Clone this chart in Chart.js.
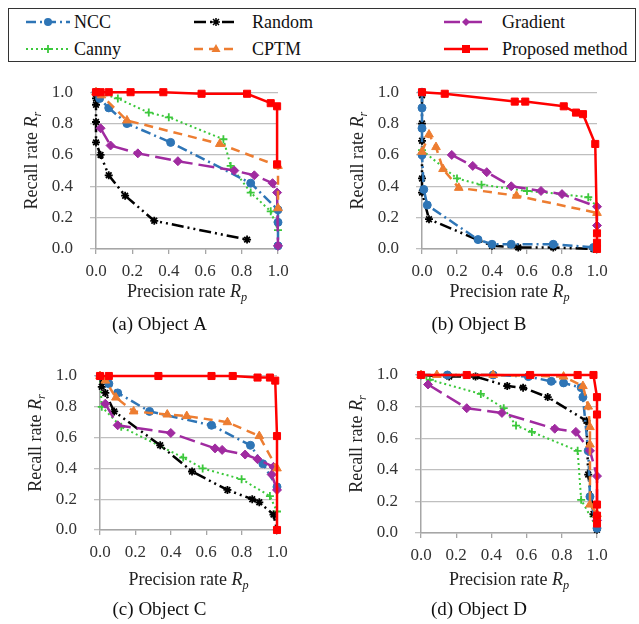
<!DOCTYPE html>
<html>
<head>
<meta charset="utf-8">
<script src="https://cdn.jsdelivr.net/npm/chart.js@4.4.1/dist/chart.umd.min.js"></script>
<style>
body { margin: 0; background: #fff; width: 639px; height: 624px; position: relative; overflow: hidden; font-family: "Liberation Serif", serif; }
canvas { position: absolute; }
#legend { position: absolute; left: 8px; top: 8px; width: 628px; height: 54px; border: 1.5px solid #333; box-sizing: border-box; }
.lg-item { position: absolute; font-size: 18px; line-height: 20px; color: #111; white-space: nowrap; }
.lg-sample { position: absolute; }
</style>
</head>
<body>
<div id="legend"></div>
<canvas id="chartA" width="319" height="280" style="left:0;top:65px"></canvas>
<canvas id="chartB" width="320" height="280" style="left:319px;top:65px"></canvas>
<canvas id="chartC" width="319" height="279" style="left:0;top:345px"></canvas>
<canvas id="chartD" width="320" height="279" style="left:319px;top:345px"></canvas>
<script>
// Data: each point is [precision Rp, recall Rr]
const methods = ['NCC', 'Random', 'Gradient', 'Canny', 'CPTM', 'Proposed method'];
const tickValues = [0, 0.2, 0.4, 0.6, 0.8, 1.0];
const captions = ['(a) Object A', '(b) Object B', '(c) Object C', '(d) Object D'];

// Object A
const nccA = [[0,1.0],[0.02,0.96],[0.07,0.9],[0.17,0.8],[0.41,0.68],[0.85,0.42],[1.0,0.25],[1.0,0.17],[1.0,0.02]];
const randomA = [[0,1.0],[0,0.96],[0,0.92],[0,0.81],[0,0.68],[0.025,0.6],[0.07,0.47],[0.16,0.34],[0.32,0.18],[0.83,0.06]];
const gradientA = [[0.025,0.77],[0.08,0.66],[0.23,0.61],[0.45,0.56],[0.76,0.5],[0.87,0.47],[0.97,0.42],[0.995,0.36],[1.0,0.02]];
const cannyA = [[0,1.0],[0.12,0.96],[0.29,0.87],[0.4,0.84],[0.7,0.7],[0.74,0.53],[0.85,0.36],[0.96,0.24],[1.0,0.12],[1.0,0.03]];
const cptmA = [[0,1.0],[0.03,0.98],[0.17,0.82],[0.68,0.67],[1.0,0.53],[1.0,0.26]];
const proposedA = [[0,1.0],[0.025,1.0],[0.07,1.0],[0.19,1.0],[0.37,1.0],[0.58,0.99],[0.83,0.99],[0.96,0.93],[0.995,0.91],[0.995,0.54]];

// Object B
const nccB = [[0,1.0],[0,0.9],[0,0.77],[0,0.6],[0.01,0.38],[0.03,0.28],[0.32,0.06],[0.4,0.03],[0.51,0.03],[0.75,0.03],[0.98,0.01]];
const randomB = [[0,1.0],[0,0.98],[0,0.8],[0,0.69],[0,0.45],[0,0.36],[0.04,0.19],[0.4,0.02],[0.55,0.01],[0.75,0.01],[0.98,0.0]];
const gradientB = [[0.17,0.6],[0.29,0.53],[0.37,0.49],[0.51,0.4],[0.68,0.37],[0.8,0.35],[1.0,0.27],[1.0,0.15]];
const cannyB = [[0,0.63],[0.2,0.45],[0.34,0.41],[0.6,0.37],[0.8,0.35],[0.95,0.33],[1.0,0.27]];
const cptmB = [[0,0.62],[0.04,0.73],[0.08,0.65],[0.12,0.51],[0.21,0.39],[0.54,0.34],[1.0,0.23]];
const proposedB = [[0,1.0],[0.13,0.99],[0.53,0.94],[0.59,0.94],[0.81,0.91],[0.88,0.87],[0.92,0.86],[0.99,0.67],[1.0,0.1],[1.0,0.04],[1.0,0.0]];

// Object C
const nccC = [[0,1.0],[0.05,0.95],[0.1,0.89],[0.28,0.77],[0.63,0.68],[0.85,0.55],[0.92,0.43],[1.0,0.28]];
const randomC = [[0,1.0],[0.01,0.93],[0.03,0.89],[0.08,0.77],[0.34,0.55],[0.52,0.38],[0.72,0.26],[0.86,0.2],[0.9,0.18],[0.98,0.1],[1.0,0.0]];
const gradientC = [[0.03,0.82],[0.1,0.68],[0.4,0.63],[0.65,0.53],[0.69,0.52],[0.82,0.49],[0.89,0.46],[0.98,0.41],[0.97,0.36],[1.0,0.26]];
const cannyC = [[0,1.0],[0.01,0.8],[0.12,0.67],[0.47,0.47],[0.58,0.4],[0.8,0.33],[0.96,0.22],[1.0,0.12],[1.0,0.01]];
const cptmC = [[0,1.0],[0.03,0.97],[0.09,0.86],[0.19,0.77],[0.38,0.75],[0.49,0.74],[0.72,0.7],[0.9,0.61],[1.0,0.4]];
const proposedC = [[0,1.0],[0.05,1.0],[0.33,1.0],[0.63,1.0],[0.75,1.0],[0.89,0.99],[0.96,0.99],[0.99,0.97],[1.0,0.61],[1.0,0.0]];

// Object D
const nccD = [[0,1.0],[0.15,1.0],[0.41,1.0],[0.61,0.99],[0.74,0.96],[0.81,0.95],[0.91,0.92],[0.92,0.86],[0.95,0.52],[0.96,0.23],[1.0,0.03]];
const randomD = [[0,1.0],[0.16,0.99],[0.31,0.99],[0.49,0.93],[0.58,0.92],[0.72,0.86],[0.94,0.71],[0.95,0.37],[0.98,0.12],[1.0,0.02]];
const gradientD = [[0.04,0.94],[0.26,0.79],[0.46,0.76],[0.76,0.66],[0.88,0.64],[0.96,0.52],[1.0,0.36],[1.0,0.08]];
const cannyD = [[0,1.0],[0.05,0.97],[0.34,0.88],[0.47,0.79],[0.54,0.68],[0.63,0.64],[0.89,0.52],[0.91,0.21],[1.0,0.03]];
const cptmD = [[0,1.0],[0.09,1.0],[0.41,1.0],[0.81,0.99],[0.92,0.93],[0.95,0.8],[0.96,0.67],[0.96,0.56],[0.96,0.18],[1.0,0.12]];
const proposedD = [[0,1.0],[0.26,1.0],[0.62,1.0],[0.89,1.0],[0.98,1.0],[1.0,0.86],[1.0,0.75],[1.0,0.18],[1.0,0.11],[1.0,0.06]];

// line / marker look for each method (same order as methods)
const styles = [
    { color: '#2E75B6', dash: [10, 4, 2, 4], point: 'circle', radius: 4, width: 2.5, order: 3 },
    { color: '#000000', dash: [12, 4, 2, 4, 2, 4], point: 'star', radius: 4, width: 2.5, order: 4 },
    { color: '#A02BA0', dash: [16, 6], point: 'rectRot', radius: 4.5, width: 2.5, order: 2 },
    { color: '#3CC83C', dash: [2, 3], point: 'cross', radius: 4, width: 2, order: 5 },
    { color: '#ED7D31', dash: [9, 6], point: 'triangle', radius: 5, width: 2.5, order: 1 },
    { color: '#FF0000', dash: [], point: 'rect', radius: 5, width: 2.5, order: 0 }
];

const FONT = '"Liberation Serif", "Times New Roman", serif';

// draws a title with an italic R and a subscript letter
function drawRich(ctx, parts, x, y, size, rotate) {
    ctx.save();
    ctx.translate(x, y);
    if (rotate) ctx.rotate(-Math.PI / 2);
    ctx.textBaseline = 'middle';
    ctx.fillStyle = '#222';
    const fonts = parts.map(p => (p.italic ? 'italic ' : '') + (p.sub ? size * 0.68 : size) + 'px ' + FONT);
    const widths = parts.map((p, i) => { ctx.font = fonts[i]; return ctx.measureText(p.text).width; });
    let cx = -widths.reduce((a, b) => a + b, 0) / 2;
    parts.forEach((p, i) => {
        ctx.font = fonts[i];
        ctx.fillText(p.text, cx, p.sub ? size * 0.3 : 0);
        cx += widths[i];
    });
    ctx.restore();
}

const axisTitles = {
    id: 'axisTitles',
    afterDraw(chart, args, opts) {
        const { ctx, chartArea } = chart;
        const midX = (chartArea.left + chartArea.right) / 2;
        const midY = (chartArea.top + chartArea.bottom) / 2;
        drawRich(ctx, [{ text: 'Precision rate ' }, { text: 'R', italic: true }, { text: 'p', italic: true, sub: true }],
            midX, chartArea.bottom + opts.xTitleDy, 18, false);
        drawRich(ctx, [{ text: 'Recall rate ' }, { text: 'R', italic: true }, { text: 'r', italic: true, sub: true }],
            chartArea.left - 64, midY - 10, 18, true);
        ctx.save();
        ctx.font = '19px ' + FONT;
        ctx.fillStyle = '#111';
        ctx.textAlign = 'center';
        ctx.textBaseline = 'middle';
        ctx.fillText(opts.caption, chart.width / 2, chartArea.bottom + opts.captionDy);
        ctx.restore();
    }
};

function makeChart(id, series, caption, box) {
    const datasets = series.map((pts, i) => ({
        label: methods[i],
        data: pts.map(p => ({ x: p[0], y: p[1] })),
        showLine: true,
        borderColor: styles[i].color,
        borderWidth: styles[i].width,
        borderDash: styles[i].dash,
        pointStyle: styles[i].point,
        pointRadius: styles[i].radius,
        pointBackgroundColor: styles[i].color,
        pointBorderColor: styles[i].color,
        pointBorderWidth: styles[i].point === 'cross' || styles[i].point === 'star' ? 1.8 : 1,
        order: styles[i].order,
        clip: false
    }));
    return new Chart(document.getElementById(id), {
        type: 'scatter',
        data: { datasets },
        options: {
            responsive: false,
            animation: false,
            layout: { padding: { left: 0, top: box.top, right: box.right, bottom: box.bottom - 30 } },
            plugins: {
                legend: { display: false },
                tooltip: { enabled: false },
                axisTitles: { caption, xTitleDy: box.xTitleDy, captionDy: box.captionDy }
            },
            scales: {
                x: {
                    min: 0, max: 1,
                    afterBuildTicks: s => { s.ticks = tickValues.map(v => ({ value: v })); },
                    afterFit: s => { s.height = 30; },
                    ticks: { callback: v => v.toFixed(1), font: { family: FONT, size: 17 }, color: '#333', padding: 7, maxRotation: 0 },
                    grid: { drawOnChartArea: false, drawTicks: true, tickLength: 5, color: '#a6a6a6', lineWidth: 1.3 },
                    border: { display: true, color: '#a6a6a6', width: 1.5 }
                },
                y: {
                    min: 0, max: 1,
                    afterBuildTicks: s => { s.ticks = tickValues.map(v => ({ value: v })); },
                    afterFit: s => { s.width = box.left; },
                    ticks: { callback: v => v.toFixed(1), font: { family: FONT, size: 17 }, color: '#333', padding: 17 },
                    grid: { drawTicks: true, tickLength: 6, color: '#bfbfbf', lineWidth: 1.3 },
                    border: { display: true, color: '#a6a6a6', width: 1.5 }
                }
            }
        },
        plugins: [axisTitles]
    });
}

makeChart('chartA', [nccA, randomA, gradientA, cannyA, cptmA, proposedA], captions[0],
    { left: 96, top: 26, right: 41, bottom: 96, xTitleDy: 43, captionDy: 76 });
makeChart('chartB', [nccB, randomB, gradientB, cannyB, cptmB, proposedB], captions[1],
    { left: 103, top: 26, right: 42, bottom: 96, xTitleDy: 43, captionDy: 76 });
makeChart('chartC', [nccC, randomC, gradientC, cannyC, cptmC, proposedC], captions[2],
    { left: 100, top: 31, right: 42, bottom: 94, xTitleDy: 50, captionDy: 80 });
makeChart('chartD', [nccD, randomD, gradientD, cannyD, cptmD, proposedD], captions[3],
    { left: 102, top: 30, right: 42, bottom: 91, xTitleDy: 47, captionDy: 77 });

// Legend (HTML text + small svg samples)
const legendSampleX = [26, 194, 444];
const legendTextX = [74, 252, 502];
const legendRowY = [22, 49];

function markerSvg(st, cx, cy) {
    const c = st.color;
    if (st.point === 'circle') return `<circle cx="${cx}" cy="${cy}" r="4" fill="${c}"/>`;
    if (st.point === 'star') return `<path d="M${cx-4} ${cy}H${cx+4}M${cx} ${cy-4}V${cy+4}M${cx-3} ${cy-3}L${cx+3} ${cy+3}M${cx-3} ${cy+3}L${cx+3} ${cy-3}" stroke="${c}" stroke-width="1.5"/>`;
    if (st.point === 'rectRot') return `<polygon points="${cx},${cy-4} ${cx+4},${cy} ${cx},${cy+4} ${cx-4},${cy}" fill="${c}"/>`;
    if (st.point === 'cross') return `<path d="M${cx-4} ${cy}H${cx+4}M${cx} ${cy-4}V${cy+4}" stroke="${c}" stroke-width="1.8"/>`;
    if (st.point === 'triangle') return `<polygon points="${cx},${cy-5} ${cx+4.5},${cy+3} ${cx-4.5},${cy+3}" fill="${c}"/>`;
    return `<rect x="${cx-4}" y="${cy-4}" width="8" height="8" fill="${c}"/>`;
}

methods.forEach((name, i) => {
    const col = i % 3, row = Math.floor(i / 3);
    const st = styles[i];
    const w = 44;
    const svg = document.createElement('div');
    svg.className = 'lg-sample';
    svg.style.left = legendSampleX[col] + 'px';
    svg.style.top = (legendRowY[row] - 8) + 'px';
    svg.innerHTML = `<svg width="${w}" height="16"><line x1="0" y1="8" x2="${w}" y2="8" stroke="${st.color}" stroke-width="${st.width}" stroke-dasharray="${st.dash.length ? st.dash.join(' ') : 'none'}"/>${markerSvg(st, w / 2, 8)}</svg>`;
    document.body.appendChild(svg);
    const t = document.createElement('div');
    t.className = 'lg-item';
    t.style.left = legendTextX[col] + 'px';
    t.style.top = (legendRowY[row] - 10) + 'px';
    t.textContent = name;
    document.body.appendChild(t);
});
</script>
</body>
</html>
